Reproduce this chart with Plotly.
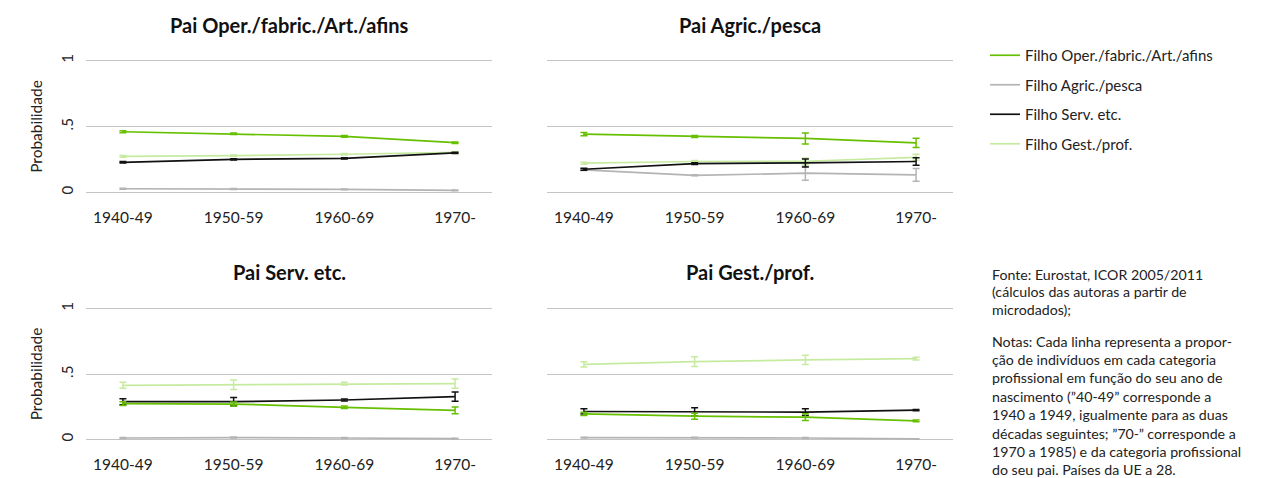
import plotly.graph_objects as go

# categorias no eixo x (décadas de nascimento)
decadas = ["1940-49", "1950-59", "1960-69", "1970-"]

paineis = ["Pai Oper./fabric./Art./afins", "Pai Agric./pesca",
           "Pai Serv. etc.", "Pai Gest./prof."]

series = ["Filho Oper./fabric./Art./afins", "Filho Agric./pesca",
          "Filho Serv. etc.", "Filho Gest./prof."]
cores = ["#66c000", "#b4b4b4", "#111111", "#c6eba0"]

# probabilidades por painel (pai) e série (filho)
pai_oper_val = [[0.460, 0.445, 0.425, 0.377],
                [0.027, 0.025, 0.022, 0.015],
                [0.228, 0.250, 0.258, 0.300],
                [0.273, 0.278, 0.289, 0.304]]
pai_oper_err = [[0.008, 0.006, 0.006, 0.006],
                [0.003, 0.003, 0.003, 0.003],
                [0.006, 0.005, 0.005, 0.005],
                [0.006, 0.005, 0.005, 0.005]]

pai_agric_val = [[0.442, 0.424, 0.409, 0.376],
                 [0.170, 0.129, 0.145, 0.132],
                 [0.175, 0.218, 0.223, 0.234],
                 [0.221, 0.234, 0.236, 0.266]]
pai_agric_err = [[0.012, 0.008, 0.042, 0.035],
                 [0.005, 0.004, 0.053, 0.048],
                 [0.008, 0.006, 0.030, 0.028],
                 [0.008, 0.008, 0.025, 0.023]]

pai_serv_val = [[0.273, 0.270, 0.245, 0.222],
                [0.010, 0.013, 0.010, 0.005],
                [0.288, 0.288, 0.301, 0.327],
                [0.413, 0.418, 0.426, 0.426]]
pai_serv_err = [[0.015, 0.015, 0.010, 0.026],
                [0.004, 0.004, 0.003, 0.003],
                [0.023, 0.032, 0.008, 0.035],
                [0.023, 0.037, 0.010, 0.035]]

pai_gest_val = [[0.195, 0.177, 0.169, 0.141],
                [0.013, 0.013, 0.010, 0.003],
                [0.213, 0.210, 0.208, 0.223],
                [0.574, 0.595, 0.608, 0.618]]
pai_gest_err = [[0.012, 0.023, 0.026, 0.006],
                [0.003, 0.003, 0.003, 0.002],
                [0.020, 0.032, 0.026, 0.005],
                [0.020, 0.037, 0.035, 0.010]]

valores = [pai_oper_val, pai_agric_val, pai_serv_val, pai_gest_val]
erros = [pai_oper_err, pai_agric_err, pai_serv_err, pai_gest_err]

fonte = ["Fonte: Eurostat, ICOR 2005/2011",
         "(cálculos das autoras a partir de",
         "microdados);"]
notas = ["Notas: Cada linha representa a propor-",
         "ção de indivíduos em cada categoria",
         "profissional em função do seu ano de",
         "nascimento (\u201d40-49\u201d corresponde a",
         "1940 a 1949, igualmente para as duas",
         "décadas seguintes; \u201d70-\u201d corresponde a",
         "1970 a 1985) e da categoria profissional",
         "do seu pai. Países da UE a 28."]

W, H = 1270, 478
OFF = 8  # margem por omissão do <body> na página
FONT = "Lato, 'Open Sans', sans-serif"


def px(x):
    return (x - OFF) / W


def py(y):
    return 1 - (y - OFF) / H


# dominios em pixels do ecrã (x0, x1) e (y_topo, y_base), com 1% de folga no eixo y
dom_x = [(86, 492), (547, 953)]
dom_y = [(59.4, 193.6), (307.4, 440.6)]

fig = go.Figure()

for p in range(4):
    lin, col = divmod(p, 2)
    n = p + 1
    xa = "x" if n == 1 else f"x{n}"
    ya = "y" if n == 1 else f"y{n}"
    # ordem de desenho: cinzento por baixo
    for s in [1, 3, 2, 0]:
        fig.add_trace(go.Scatter(
            x=decadas, y=valores[p][s],
            error_y=dict(type="data", array=erros[p][s], color=cores[s],
                         thickness=1.5, width=3.5),
            mode="lines", line=dict(color=cores[s], width=1.7),
            name=series[s], legendgroup=series[s], legendrank=s,
            showlegend=(p == 0), xaxis=xa, yaxis=ya, hoverinfo="skip"))

    x0, x1 = dom_x[col]
    yt, yb = dom_y[lin]
    fig.layout[f"xaxis{'' if n == 1 else n}"] = dict(
        domain=[px(x0), px(x1)], anchor=ya, type="category", automargin=False,
        range=[-1 / 3, 3 + 1 / 3], showgrid=False, showline=False, zeroline=False,
        ticks="outside", ticklen=10, tickcolor="rgba(0,0,0,0)",
        tickfont=dict(size=15.5, color="#222"))
    fig.layout[f"yaxis{'' if n == 1 else n}"] = dict(
        domain=[py(yb), py(yt)], anchor=xa, range=[-0.01, 1.01],
        automargin=False,
        tickvals=[0, 0.5, 1], ticktext=["0", ".5", "1"],
        showticklabels=(col == 0), tickangle=-90,
        ticks="outside" if col == 0 else "", ticklen=6, tickcolor="rgba(0,0,0,0)",
        tickfont=dict(size=15, color="#222"),
        showgrid=True, gridcolor="#c4c4c4", gridwidth=1.2,
        zeroline=False, showline=False,
        title=dict(text="Probabilidade" if col == 0 else "",
                   font=dict(size=15.5, color="#222"), standoff=11))

    fig.add_annotation(text=f"<b>{paineis[p]}</b>", xref="paper", yref="paper",
                       x=px((x0 + x1) / 2), y=py(25 if lin == 0 else 272),
                       xanchor="center", yanchor="middle", showarrow=False,
                       font=dict(size=20, color="#111"))

# texto de fonte e notas, linha a linha para controlar o espaçamento
for i, t in enumerate(fonte):
    fig.add_annotation(text=t, xref="paper", yref="paper", x=px(990),
                       y=py(274 + 17.8 * i), xanchor="left", yanchor="middle",
                       showarrow=False, font=dict(size=14.2, color="#222"))
for i, t in enumerate(notas):
    fig.add_annotation(text=t, xref="paper", yref="paper", x=px(990),
                       y=py(341 + 18.4 * i), xanchor="left", yanchor="middle",
                       showarrow=False, font=dict(size=14.2, color="#222"))

fig.update_layout(
    width=W, height=H, margin=dict(l=0, r=0, t=0, b=0),
    paper_bgcolor="white", plot_bgcolor="white",
    font=dict(family=FONT, color="#222"),
    showlegend=True,
    legend=dict(x=px(985), y=py(39), xanchor="left", yanchor="top",
                tracegroupgap=7, font=dict(size=15, color="#222"),
                bgcolor="rgba(0,0,0,0)", itemwidth=30),
)

fig.write_html("out.html")
